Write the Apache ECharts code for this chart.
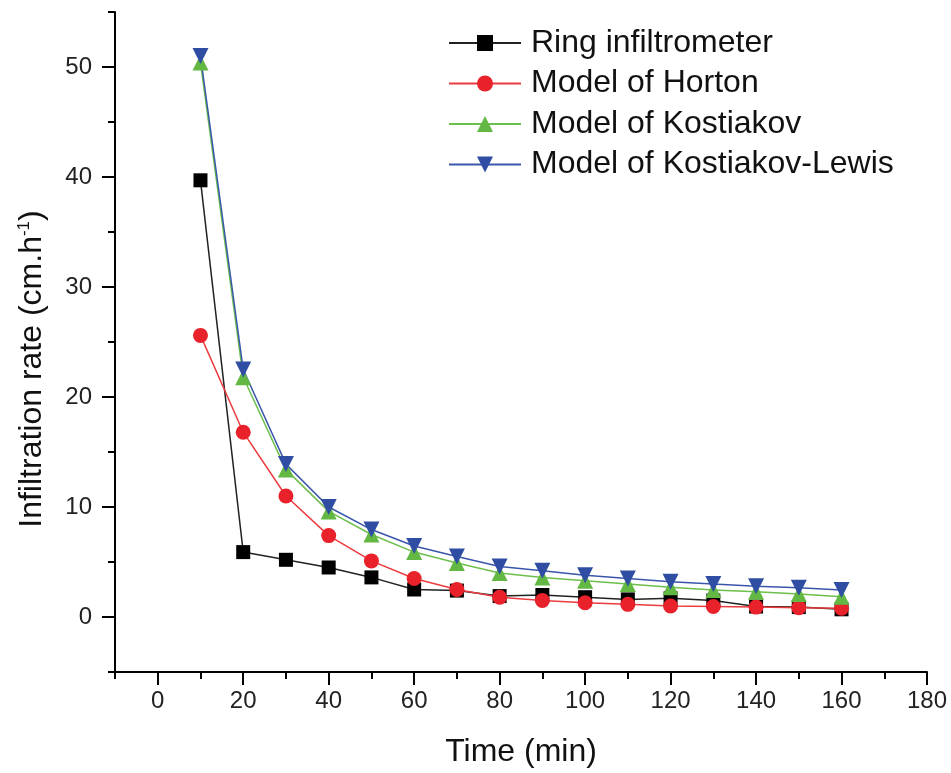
<!DOCTYPE html>
<html>
<head>
<meta charset="utf-8">
<script src="https://cdn.jsdelivr.net/npm/echarts@6/dist/echarts.min.js"></script>
<style>
html,body{margin:0;padding:0;background:#fff;}
#chart{width:951px;height:773px;}
</style>
</head>
<body>
<div id="chart"></div>
<script>
var times = [10, 20, 30, 40, 50, 60, 70, 80, 90, 100, 110, 120, 130, 140, 150, 160];
var ring = [39.7, 5.9, 5.2, 4.5, 3.6, 2.5, 2.4, 1.9, 2.0, 1.8, 1.6, 1.7, 1.5, 0.95, 0.9, 0.7];
var horton = [25.6, 16.8, 11.0, 7.4, 5.1, 3.5, 2.5, 1.8, 1.5, 1.3, 1.15, 1.0, 0.95, 0.9, 0.85, 0.8];
var kostiakov = [50.4, 21.8, 13.4, 9.6, 7.5, 5.9, 4.9, 4.0, 3.6, 3.3, 3.0, 2.7, 2.45, 2.3, 2.1, 1.85];
var kostLewis = [51.0, 22.5, 13.9, 10.0, 7.95, 6.45, 5.5, 4.6, 4.2, 3.8, 3.5, 3.2, 3.0, 2.8, 2.65, 2.45];
var seriesNames = ['Ring infiltrometer', 'Model of Horton', 'Model of Kostiakov', 'Model of Kostiakov-Lewis'];
var xMajor = [0, 20, 40, 60, 80, 100, 120, 140, 160, 180];
var xMinor = [-10, 10, 30, 50, 70, 90, 110, 130, 150, 170];
var yMajor = [0, 10, 20, 30, 40, 50];
var yMinor = [-5, 5, 15, 25, 35, 45, 55];

var FONT = 'Liberation Sans, Arial, Helvetica, sans-serif';
function pairs(vals) { return times.map(function (t, i) { return [t, vals[i]]; }); }

var chart = echarts.init(document.getElementById('chart'));
var tickStyle = { color: '#000', width: 2 };
function tickAxis(kind, values, len, min, max) {
  return {
    type: 'value', min: min, max: max, gridIndex: 0,
    position: kind === 'x' ? 'bottom' : 'left',
    axisLine: { show: false, onZero: false },
    axisTick: { show: true, customValues: values, length: len, lineStyle: tickStyle },
    axisLabel: { show: false },
    splitLine: { show: false }
  };
}
chart.setOption({
  backgroundColor: '#fff',
  animation: false,
  grid: { left: 115, right: 24, top: 12, bottom: 101, containLabel: false },
  legend: {
    left: 448, top: 27, orient: 'vertical', padding: 0,
    itemWidth: 72, itemHeight: 20, itemGap: 8.5,
    data: seriesNames,
    textStyle: { fontFamily: FONT, fontSize: 32, lineHeight: 32, color: '#111', padding: [0, 0, 0, 5] }
  },
  xAxis: [{
    type: 'value', min: -10, max: 180,
    name: 'Time (min)', nameLocation: 'middle', nameGap: 64,
    nameTextStyle: { fontFamily: FONT, fontSize: 32, color: '#111' },
    axisLine: { show: true, onZero: false, lineStyle: { color: '#000', width: 2 } },
    axisTick: { show: false },
    axisLabel: { customValues: xMajor, margin: 17, fontFamily: FONT, fontSize: 24, color: '#222' },
    splitLine: { show: false }
  }, tickAxis('x', xMajor, 13, -10, 180), tickAxis('x', xMinor, 7, -10, 180)],
  yAxis: [{
    type: 'value', min: -5, max: 55,
    axisLine: { show: true, onZero: false, lineStyle: { color: '#000', width: 2 } },
    axisTick: { show: false },
    axisLabel: { customValues: yMajor, margin: 23, fontFamily: FONT, fontSize: 24, color: '#222' },
    splitLine: { show: false }
  }, tickAxis('y', yMajor, 13, -5, 55), tickAxis('y', yMinor, 7, -5, 55)],
  graphic: [{
    type: 'text', x: 32, y: 369, rotation: Math.PI / 2,
    style: {
      text: 'Infiltration rate (cm.h{sup|-1})',
      fontFamily: FONT, fontSize: 32, fill: '#111',
      align: 'center', verticalAlign: 'middle',
      rich: { sup: { fontFamily: FONT, fontSize: 17, fill: '#111', verticalAlign: 'top', lineHeight: 32, padding: [0, 0, 14, 0] } }
    }
  }],
  series: [{
    name: seriesNames[0], type: 'line', data: pairs(ring),
    symbol: 'rect', symbolSize: 14,
    lineStyle: { color: '#222', width: 1.5 }, itemStyle: { color: '#000' }
  }, {
    name: seriesNames[1], type: 'line', data: pairs(horton),
    symbol: 'circle', symbolSize: 15,
    lineStyle: { color: '#ec3b3f', width: 1.5 }, itemStyle: { color: '#e8212a' }
  }, {
    name: seriesNames[2], type: 'line', data: pairs(kostiakov),
    symbol: 'triangle', symbolSize: 16,
    lineStyle: { color: '#6cbf4a', width: 1.5 }, itemStyle: { color: '#63b843' }
  }, {
    name: seriesNames[3], type: 'line', data: pairs(kostLewis),
    symbol: 'triangle', symbolSize: 16, symbolRotate: 180,
    lineStyle: { color: '#3a56ab', width: 1.5 }, itemStyle: { color: '#2f4ea3' }
  }]
});
</script>
</body>
</html>
